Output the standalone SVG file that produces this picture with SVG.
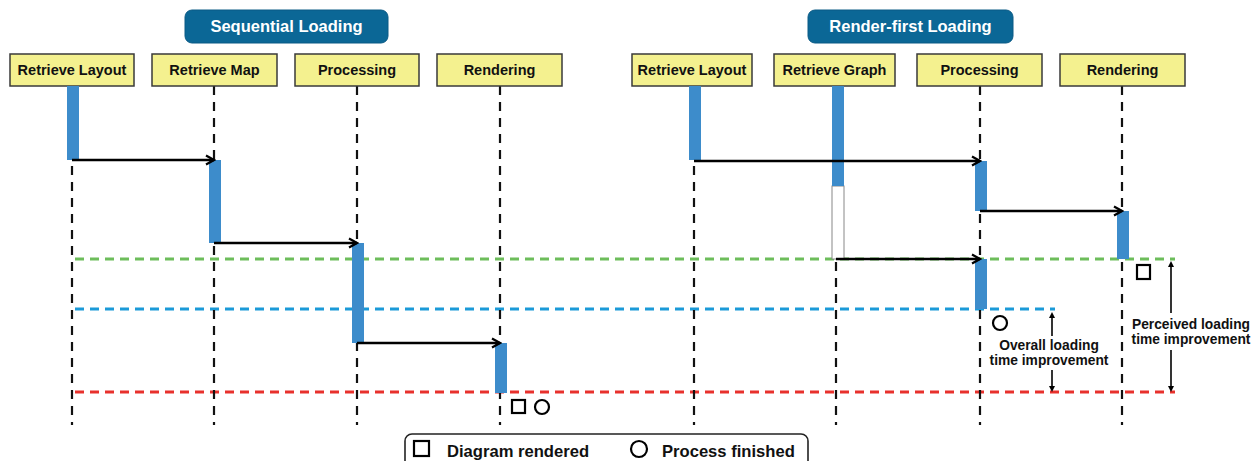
<svg xmlns="http://www.w3.org/2000/svg" width="1254" height="461" viewBox="0 0 1254 461">
<style>
.title{fill:#0b6796;stroke:#0a5a85;stroke-width:1}
.ttext{font-family:"Liberation Sans",Arial,sans-serif;font-weight:bold;font-size:16.5px;fill:#fff;text-anchor:middle}
.hdr{fill:#f4f18f;stroke:#3a3a3a;stroke-width:1.5}
.htext{font-family:"Liberation Sans",Arial,sans-serif;font-weight:bold;font-size:14.5px;fill:#111;text-anchor:middle}
.life{stroke:#111;stroke-width:2.2;stroke-dasharray:9 7;fill:none}
.bar{fill:#3d8ccb}
.msg{stroke:#000;stroke-width:2.4;fill:none;marker-end:url(#arr)}
.hl{stroke-width:3;stroke-dasharray:9 6;fill:none}
.atext{font-family:"Liberation Sans",Arial,sans-serif;font-weight:bold;font-size:13.8px;fill:#111;text-anchor:middle}
.sym{fill:none;stroke:#000;stroke-width:2.2}
.dim{stroke:#000;stroke-width:1.6;fill:none}
.ltext{font-family:"Liberation Sans",Arial,sans-serif;font-weight:bold;font-size:16.6px;fill:#111}
</style>
<defs>
<marker id="arr" markerWidth="12" markerHeight="12" refX="10" refY="6" orient="auto" markerUnits="userSpaceOnUse">
<path d="M2,1.5 L10,6 L2,10.5" fill="none" stroke="#000" stroke-width="2.2"/>
</marker>
<marker id="dimh" markerWidth="8" markerHeight="8" refX="4" refY="4" orient="auto" markerUnits="userSpaceOnUse">
<path d="M0,1 L6,4 L0,7 Z" fill="#000"/>
</marker>
</defs>

<g id="title-sequential">
<rect class="title" x="185" y="10" width="203" height="33" rx="7"/>
<text class="ttext" x="286.5" y="32">Sequential Loading</text>
</g>
<g id="title-renderfirst">
<rect class="title" x="808" y="10" width="205" height="33" rx="7"/>
<text class="ttext" x="910.5" y="32">Render-first Loading</text>
</g>

<g id="guides">
<line class="hl" x1="75" y1="259" x2="1175" y2="259" stroke="#6dbd5b"/>
<line class="hl" x1="75" y1="309" x2="1055" y2="309" stroke="#1b9ad8"/>
<line class="hl" x1="75" y1="392" x2="1175" y2="392" stroke="#e8312c"/>
</g>

<g id="lifelines">
<line class="life" x1="72" y1="86" x2="72" y2="425"/>
<line class="life" x1="214" y1="86" x2="214" y2="425"/>
<line class="life" x1="357" y1="86" x2="357" y2="425"/>
<line class="life" x1="500" y1="86" x2="500" y2="425"/>
<line class="life" x1="694" y1="86" x2="694" y2="425"/>
<line class="life" x1="836" y1="86" x2="836" y2="425"/>
<line class="life" x1="980" y1="86" x2="980" y2="425"/>
<line class="life" x1="1122" y1="86" x2="1122" y2="425"/>
</g>

<g id="seq-retrieve-layout">
<rect class="hdr" x="10" y="54" width="124" height="32"/>
<text class="htext" x="72" y="75">Retrieve Layout</text>
<rect class="bar" x="67" y="86" width="12" height="74"/>
</g>
<g id="seq-retrieve-map">
<rect class="hdr" x="152" y="54" width="125" height="32"/>
<text class="htext" x="214.5" y="75">Retrieve Map</text>
<rect class="bar" x="209" y="160" width="12" height="83"/>
</g>
<g id="seq-processing">
<rect class="hdr" x="295" y="54" width="124" height="32"/>
<text class="htext" x="357" y="75">Processing</text>
<rect class="bar" x="352" y="243" width="12" height="100"/>
</g>
<g id="seq-rendering">
<rect class="hdr" x="437" y="54" width="125" height="32"/>
<text class="htext" x="499.5" y="75">Rendering</text>
<rect class="bar" x="495" y="343" width="12" height="50"/>
</g>

<g id="rf-retrieve-layout">
<rect class="hdr" x="632" y="54" width="120" height="32"/>
<text class="htext" x="692" y="75">Retrieve Layout</text>
<rect class="bar" x="689" y="86" width="12" height="74"/>
</g>
<g id="rf-retrieve-graph">
<rect class="hdr" x="774" y="54" width="121" height="32"/>
<text class="htext" x="834.5" y="75">Retrieve Graph</text>
<rect x="832" y="186" width="12" height="73" fill="#fff" stroke="#888" stroke-width="1"/>
<rect class="bar" x="832" y="86" width="12" height="100"/>
</g>
<g id="rf-processing">
<rect class="hdr" x="917" y="54" width="125" height="32"/>
<text class="htext" x="979.5" y="75">Processing</text>
<rect class="bar" x="975" y="161" width="12" height="50"/>
<rect class="bar" x="975" y="259" width="12" height="50"/>
</g>
<g id="rf-rendering">
<rect class="hdr" x="1060" y="54" width="125" height="32"/>
<text class="htext" x="1122.5" y="75">Rendering</text>
<rect class="bar" x="1117" y="211" width="12" height="48"/>
</g>

<g id="connectors">
<line class="msg" x1="72" y1="160" x2="214" y2="160"/>
<line class="msg" x1="214" y1="243" x2="357" y2="243"/>
<line class="msg" x1="357" y1="343" x2="500" y2="343"/>
<line class="msg" x1="694" y1="161" x2="980" y2="161"/>
<line class="msg" x1="980" y1="211" x2="1122" y2="211"/>
<line class="msg" x1="836" y1="259" x2="980" y2="259"/>
</g>

<g id="markers">
<rect class="sym" x="512" y="400" width="13" height="13"/>
<circle class="sym" cx="542" cy="407" r="7"/>
<rect class="sym" x="1137" y="265" width="13" height="14"/>
<circle class="sym" cx="1000" cy="323" r="7"/>
</g>

<g id="overall-improvement">
<line class="dim" x1="1052" y1="336" x2="1052" y2="314" marker-end="url(#dimh)"/>
<line class="dim" x1="1052" y1="370" x2="1052" y2="390" marker-end="url(#dimh)"/>
<text class="atext" x="1049" y="350">Overall loading</text>
<text class="atext" x="1049" y="365">time improvement</text>
</g>
<g id="perceived-improvement">
<line class="dim" x1="1171" y1="313" x2="1171" y2="263" marker-end="url(#dimh)"/>
<line class="dim" x1="1171" y1="350" x2="1171" y2="390" marker-end="url(#dimh)"/>
<text class="atext" x="1191" y="329">Perceived loading</text>
<text class="atext" x="1191" y="344">time improvement</text>
</g>

<g id="legend">
<rect x="405" y="434" width="403" height="40" rx="7" fill="#fff" stroke="#222" stroke-width="1.6"/>
<rect class="sym" x="414" y="441" width="15" height="15"/>
<text class="ltext" x="447" y="457">Diagram rendered</text>
<circle class="sym" cx="639" cy="449" r="8"/>
<text class="ltext" x="662" y="457">Process finished</text>
</g>
</svg>
